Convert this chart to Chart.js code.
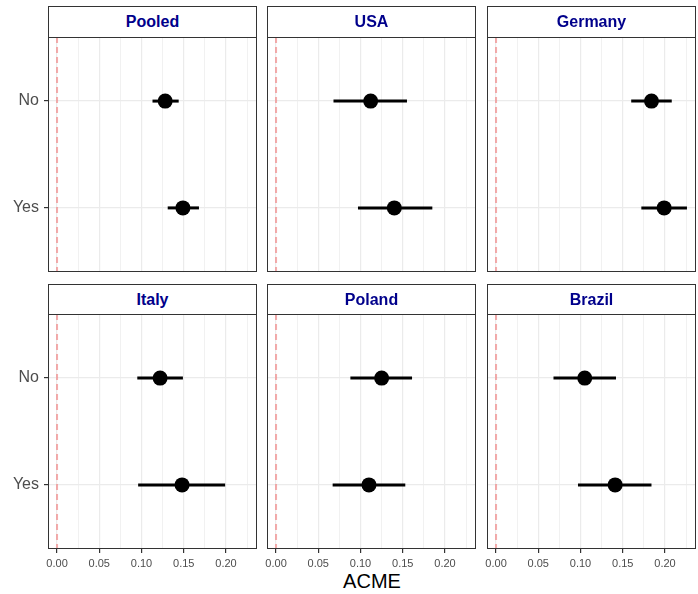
<!DOCTYPE html>
<html>
<head>
<meta charset="utf-8">
<script src="https://cdn.jsdelivr.net/npm/chart.js@4"></script>
<style>
  body { margin: 0; background: #fff; font-family: "Liberation Sans", Arial, sans-serif; }
  #wrap { position: relative; width: 698px; height: 594px; }
  canvas { position: absolute; }
  .strip {
    position: absolute; box-sizing: border-box; border: 1px solid #333; background: #fff;
    color: #00008B; font-weight: bold; font-size: 16px; text-align: center; z-index: 2;
  }
  #xtitle { position: absolute; left: 48px; width: 648px; top: 570px; text-align: center; font-size: 20px; color: #000; }
</style>
</head>
<body>
<div id="wrap"><div id="xtitle">ACME</div></div>
<script>
// facet panels and the two groups
const countries = ['Pooled', 'USA', 'Germany', 'Italy', 'Poland', 'Brazil'];
const groups = ['No', 'Yes'];

// estimates with 95% intervals, one value per country
const acmeNo  = [0.128, 0.112, 0.184, 0.122, 0.125, 0.105];
const lowNo   = [0.113, 0.068, 0.160, 0.095, 0.088, 0.068];
const highNo  = [0.144, 0.155, 0.208, 0.149, 0.161, 0.142];
const acmeYes = [0.149, 0.140, 0.199, 0.148, 0.110, 0.141];
const lowYes  = [0.131, 0.097, 0.172, 0.096, 0.067, 0.097];
const highYes = [0.168, 0.185, 0.226, 0.199, 0.153, 0.184];

const xMajor = [0, 0.05, 0.1, 0.15, 0.2];
const xMinor = [0.025, 0.075, 0.125, 0.175, 0.225];
const xLabels = ['0.00', '0.05', '0.10', '0.15', '0.20'];

// panel geometry (pixels)
const colLeft = [48, 267, 487];
const panelW = 209;
const stripTop = [6, 284];
const panelTop = [37, 314];
const panelH = 235;
const axisW = 48, axisH = 30;

const frame = {
  id: 'frame',
  afterDraw(chart) {
    const a = chart.chartArea, c = chart.ctx;
    c.save();
    c.strokeStyle = '#333';
    c.lineWidth = 1;
    c.strokeRect(a.left + 0.5, a.top + 0.5, a.right - a.left - 1, a.bottom - a.top - 1);
    c.restore();
  }
};

// fixed axis boxes, no extra label padding
const fixBox = (s, w, h) => {
  if (w != null) s.width = w;
  if (h != null) s.height = h;
  s.paddingLeft = s.paddingRight = s.paddingTop = s.paddingBottom = 0;
};

const wrap = document.getElementById('wrap');

countries.forEach((name, i) => {
  const col = i % 3, row = Math.floor(i / 3);
  const isLeft = col === 0, isBottom = row === 1;

  const strip = document.createElement('div');
  strip.className = 'strip';
  strip.style.left = colLeft[col] + 'px';
  strip.style.top = stripTop[row] + 'px';
  strip.style.width = panelW + 'px';
  strip.style.height = (panelTop[row] - stripTop[row] + 1) + 'px';
  strip.style.lineHeight = (panelTop[row] - stripTop[row] - 1) + 'px';
  strip.textContent = name;
  wrap.appendChild(strip);

  const cv = document.createElement('canvas');
  cv.width = axisW + panelW;
  cv.height = panelH + axisH;
  cv.style.left = (colLeft[col] - axisW) + 'px';
  cv.style.top = panelTop[row] + 'px';
  wrap.appendChild(cv);

  const est = [acmeNo[i], acmeYes[i]];
  const lo = [lowNo[i], lowYes[i]];
  const hi = [highNo[i], highYes[i]];

  const datasets = [{
    // reference line at zero
    data: [{ x: 0, y: -0.6 }, { x: 0, y: 1.6 }],
    showLine: true, pointRadius: 0, borderColor: 'rgba(240,128,128,0.65)',
    borderWidth: 2, borderDash: [6, 4]
  }];
  groups.forEach((g, k) => {
    datasets.push({
      data: [{ x: lo[k], y: k }, { x: hi[k], y: k }],
      showLine: true, pointRadius: 0, borderColor: '#000', borderWidth: 3
    });
  });
  datasets.push({
    data: groups.map((g, k) => ({ x: est[k], y: k })),
    pointRadius: 7.5, pointBackgroundColor: '#000', pointBorderColor: '#000', borderWidth: 0
  });

  new Chart(cv, {
    type: 'scatter',
    data: { datasets },
    plugins: [frame],
    options: {
      responsive: false,
      animation: false,
      devicePixelRatio: 1,
      layout: { padding: 0, autoPadding: false },
      plugins: { legend: { display: false }, tooltip: { enabled: false } },
      scales: {
        x: {
          type: 'linear', min: -0.0107, max: 0.2367,
          afterBuildTicks: s => { s.ticks = [...xMajor, ...xMinor].sort((a, b) => a - b).map(v => ({ value: v })); },
          afterFit: s => fixBox(s, null, axisH),
          border: { display: false },
          grid: {
            color: '#ebebeb',
            lineWidth: c => xMajor.some(v => Math.abs(v - c.tick.value) < 1e-9) ? 1.2 : 0.7,
            drawTicks: isBottom, tickLength: 4,
            tickColor: c => xMajor.some(v => Math.abs(v - c.tick.value) < 1e-9) ? '#333' : 'rgba(0,0,0,0)'
          },
          ticks: {
            display: isBottom, padding: 4, color: '#4d4d4d', maxRotation: 0, autoSkip: false,
            font: { family: 'Liberation Sans', size: 11 },
            callback: v => {
              const j = xMajor.findIndex(m => Math.abs(m - v) < 1e-9);
              return j >= 0 ? xLabels[j] : '';
            }
          }
        },
        y: {
          type: 'linear', min: -0.6, max: 1.6, reverse: true,
          afterBuildTicks: s => { s.ticks = groups.map((g, k) => ({ value: k })); },
          afterFit: s => fixBox(s, axisW, null),
          border: { display: false },
          grid: { color: '#ebebeb', lineWidth: 1.2, drawTicks: isLeft, tickLength: 4, tickColor: '#333' },
          ticks: {
            display: isLeft, padding: 5, color: '#4d4d4d',
            font: { family: 'Liberation Sans', size: 16 },
            callback: v => groups[v]
          }
        }
      }
    }
  });
});
</script>
</body>
</html>
